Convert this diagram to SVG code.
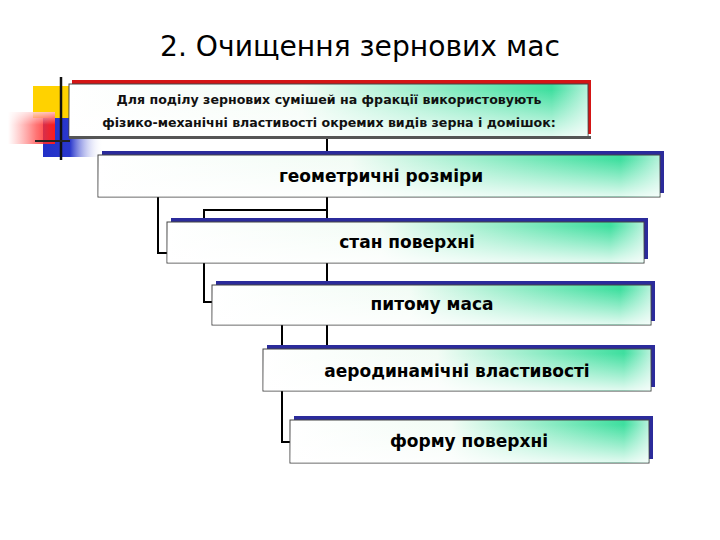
<svg xmlns="http://www.w3.org/2000/svg" width="720" height="540" viewBox="0 0 720 540">
<defs>
<linearGradient id="gh" x1="0" y1="0" x2="1" y2="0">
<stop offset="0" stop-color="#ffffff"/>
<stop offset="0.45" stop-color="#f2fcf5"/>
<stop offset="0.93" stop-color="#3fdf9f"/>
<stop offset="1" stop-color="#b8f2dc"/>
</linearGradient>
<linearGradient id="gv" x1="0" y1="0" x2="0" y2="1">
<stop offset="0.1" stop-color="#ffffff" stop-opacity="0"/>
<stop offset="1" stop-color="#ffffff" stop-opacity="0.85"/>
</linearGradient>
<linearGradient id="blueFade" x1="0" y1="0" x2="1" y2="0">
<stop offset="0" stop-color="#2230c8"/>
<stop offset="0.45" stop-color="#2a38cc"/>
<stop offset="1" stop-color="#ffffff" stop-opacity="0"/>
</linearGradient>
<linearGradient id="redFade" x1="0" y1="0" x2="1" y2="0">
<stop offset="0" stop-color="#ff6060" stop-opacity="0"/>
<stop offset="0.6" stop-color="#ff3a3a" stop-opacity="0.7"/>
<stop offset="1" stop-color="#ff1a1a"/>
</linearGradient>
<linearGradient id="redV" x1="0" y1="0" x2="0" y2="1">
<stop offset="0" stop-color="#ffffff" stop-opacity="0.7"/>
<stop offset="0.4" stop-color="#ffffff" stop-opacity="0"/>
</linearGradient>
<style>
.sh{fill:#2b2b9b}
.shr{fill:#d41515}
.box{fill:url(#gh);stroke:#444;stroke-width:1}
.ov{fill:url(#gv)}
.lbl{font-family:"DejaVu Sans","Liberation Sans",sans-serif;font-weight:bold;font-size:17px;fill:#000;text-anchor:middle}
.top{font-family:"DejaVu Sans","Liberation Sans",sans-serif;font-weight:bold;font-size:12.6px;fill:#111;text-anchor:middle}
.con{fill:none;stroke:#000;stroke-width:2}
</style>
</defs>
<rect width="720" height="540" fill="#fff"/>

<g id="title">
<text x="360" y="56" font-family="'DejaVu Sans','Liberation Sans',sans-serif" font-size="28" text-anchor="middle" fill="#000" textLength="400" lengthAdjust="spacingAndGlyphs">2. Очищення зернових мас</text>
</g>

<g id="decor">
<rect x="33" y="86" width="37" height="32" fill="#ffd200"/>
<rect x="43" y="118" width="60" height="39" fill="url(#blueFade)"/>
<rect x="8" y="112" width="47" height="32" fill="url(#redFade)"/>
<rect x="8" y="112" width="47" height="32" fill="url(#redV)"/>
<line x1="61" y1="77" x2="61" y2="160" stroke="#111" stroke-width="2.5"/>
<line x1="35" y1="141" x2="70" y2="141" stroke="#222" stroke-width="2"/>
</g>

<g id="connectors">
<path class="con" d="M327 139 V346"/>
<path class="con" d="M158 197 V253 H168"/>
<path class="con" d="M327 210 H204 V302 H213"/>
<path class="con" d="M282 324 V442 H291"/>
</g>

<g id="header">
<rect class="shr" x="72" y="80" width="519" height="54"/>
<rect class="box" x="69" y="84" width="519" height="53"/>
<rect class="ov" x="69.5" y="84.5" width="518" height="52"/>
<rect x="69" y="136" width="522" height="3" fill="#555"/>
<text class="top" x="329" y="104">Для поділу зернових сумішей на фракції використовують</text>
<text class="top" x="329" y="127">фізико-механічні властивості окремих видів зерна і домішок:</text>
</g>

<g id="n1">
<rect class="sh" x="102" y="151" width="562" height="42"/>
<rect class="box" x="98" y="155" width="562" height="42"/>
<rect class="ov" x="98.5" y="155.5" width="561" height="41"/>
<text class="lbl" x="381" y="182">геометричні  розміри</text>
</g>

<g id="n2">
<rect class="sh" x="171" y="218" width="477" height="41"/>
<rect class="box" x="167" y="222" width="477" height="41"/>
<rect class="ov" x="167.5" y="222.5" width="476" height="40"/>
<text class="lbl" x="407" y="248">стан поверхні</text>
</g>

<g id="n3">
<rect class="sh" x="216" y="281" width="439" height="40"/>
<rect class="box" x="212" y="285" width="439" height="40"/>
<rect class="ov" x="212.5" y="285.5" width="438" height="39"/>
<text class="lbl" x="432" y="310">питому маса</text>
</g>

<g id="n4">
<rect class="sh" x="267" y="345" width="388" height="42"/>
<rect class="box" x="263" y="349" width="388" height="42"/>
<rect class="ov" x="263.5" y="349.5" width="387" height="41"/>
<text class="lbl" x="457" y="377">аеродинамічні властивості</text>
</g>

<g id="n5">
<rect class="sh" x="294" y="416" width="359" height="43"/>
<rect class="box" x="290" y="420" width="359" height="43"/>
<rect class="ov" x="290.5" y="420.5" width="358" height="42"/>
<text class="lbl" x="469" y="447">форму поверхні</text>
</g>
</svg>
